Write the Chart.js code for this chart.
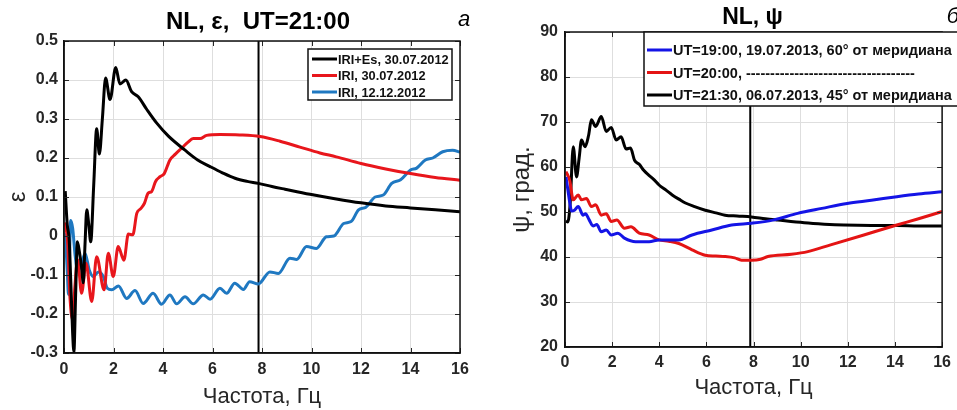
<!DOCTYPE html>
<html lang="ru">
<head>
    <meta charset="UTF-8">
    <title>NL, ε, ψ</title>
    <script src="https://cdn.jsdelivr.net/npm/chart.js"></script>
    <style>
        body {
            margin: 0;
            padding: 0;
            background: #fff;
            width: 957px;
            height: 410px;
            overflow: hidden;
        }
        .panel {
            position: absolute;
            top: 0;
            height: 410px;
        }
        #left { left: 0; width: 480px; }
        #right { left: 480px; width: 477px; }
    </style>
</head>
<body>

<div class="panel" id="left"><canvas id="epsChart"></canvas></div>
<div class="panel" id="right"><canvas id="psiChart"></canvas></div>

<script>
    // --- данные ---
    const markerFreq = 7.86; // вертикальная линия, Гц

    // левая панель: ε
    const fEpsIriEs = [0.05, 0.13, 0.21, 0.27, 0.35, 0.40, 0.47, 0.54, 0.62, 0.71, 0.78, 0.85, 0.92, 1.00, 1.08,
        1.20, 1.32, 1.43, 1.55, 1.68, 1.86, 2.09, 2.26, 2.50, 2.73, 3.00, 3.34, 3.74, 4.22, 4.89,
        5.40, 5.90, 6.40, 6.91, 7.40, 7.85, 8.40, 8.93, 9.94, 11.0, 12.0, 13.0, 14.0, 15.0, 16.0];
    const epsIriEs = [0.115, 0.03, -0.01, -0.11, -0.25, -0.297, -0.15, -0.015, -0.04, -0.08, -0.12, -0.02, 0.067, 0.03, -0.015,
        0.13, 0.275, 0.21, 0.30, 0.405, 0.35, 0.432, 0.39, 0.40, 0.37, 0.357, 0.325, 0.29, 0.256, 0.22,
        0.195, 0.178, 0.162, 0.148, 0.14, 0.135, 0.127, 0.12, 0.107, 0.095, 0.085, 0.077, 0.072, 0.067, 0.062];

    const fEpsIri = [0.05, 0.15, 0.24, 0.35, 0.44, 0.55, 0.71, 0.89, 1.12, 1.32, 1.62, 1.79, 1.99, 2.19, 2.42,
        2.60, 2.78, 2.94, 3.10, 3.25, 3.40, 3.54, 3.70, 3.88, 4.05, 4.28, 4.50, 4.75, 5.00, 5.22,
        5.50, 5.76, 6.30, 7.10, 7.92, 8.73, 9.53, 10.34, 11.0, 12.0, 13.0, 14.0, 15.0, 16.0];
    const epsIri = [0.035, -0.02, -0.156, -0.215, -0.13, -0.06, -0.147, -0.07, -0.168, -0.053, -0.138, -0.044, -0.104, -0.027, -0.062,
        0.005, 0.003, 0.058, 0.07, 0.084, 0.11, 0.114, 0.14, 0.152, 0.16, 0.195, 0.21, 0.225, 0.24, 0.25,
        0.25, 0.258, 0.26, 0.259, 0.255, 0.243, 0.228, 0.213, 0.203, 0.186, 0.172, 0.16, 0.15, 0.143];

    const fEpsWinter = [0.05, 0.13, 0.18, 0.27, 0.35, 0.45, 0.55, 0.70, 0.85, 1.02, 1.19, 1.39, 1.59, 1.75, 1.93,
        2.20, 2.53, 2.87, 3.20, 3.60, 3.94, 4.28, 4.55, 4.89, 5.22, 5.63, 5.90, 6.30, 6.57, 6.90,
        7.25, 7.50, 7.85, 8.32, 8.66, 9.13, 9.40, 9.80, 10.2, 10.6, 10.9, 11.3, 11.6, 11.9, 12.2,
        12.57, 12.9, 13.24, 13.6, 14.0, 14.25, 14.6, 14.9, 15.3, 15.7, 16.0];
    const epsWinter = [0.007, -0.087, -0.15, 0.04, 0.02, -0.05, -0.087, -0.075, -0.044, -0.087, -0.104, -0.092, -0.104, -0.134, -0.138,
        -0.128, -0.16, -0.14, -0.173, -0.147, -0.175, -0.151, -0.174, -0.156, -0.174, -0.151, -0.162, -0.134, -0.147, -0.121,
        -0.137, -0.117, -0.123, -0.092, -0.096, -0.057, -0.06, -0.027, -0.032, -0.002, 0.0, 0.032, 0.037, 0.067, 0.074,
        0.1, 0.105, 0.135, 0.144, 0.169, 0.174, 0.195, 0.2, 0.216, 0.22, 0.215];

    // правая панель: ψ, град.
    const fPsi1900 = [0.04, 0.12, 0.22, 0.28, 0.40, 0.56, 0.77, 0.87, 1.02, 1.19, 1.35, 1.54, 1.75, 1.96, 2.24,
        2.52, 3.00, 3.57, 3.99, 4.83, 5.39, 6.23, 7.07, 7.91, 8.82, 9.87, 10.9, 11.97, 13.0, 14.08, 15.0, 16.0];
    const psi1900 = [57.8, 55.0, 51.5, 50.2, 50.4, 51.2, 49.3, 49.6, 48.3, 46.9, 47.2, 45.6, 46.0, 44.9, 45.3,
        44.2, 43.4, 43.4, 43.8, 43.8, 44.9, 46.0, 47.1, 47.5, 48.2, 49.7, 50.8, 51.9, 52.6, 53.4, 54.0, 54.5];

    const fPsi2000 = [0.04, 0.20, 0.35, 0.56, 0.70, 0.91, 1.12, 1.30, 1.54, 1.75, 1.96, 2.20, 2.52, 2.80, 3.15,
        3.57, 3.99, 4.40, 4.83, 5.39, 5.95, 6.40, 6.79, 7.20, 7.49, 7.91, 8.30, 8.61, 9.60, 10.30,
        11.27, 12.68, 14.08, 15.0, 16.0];
    const psi2000 = [59.0, 57.0, 52.7, 53.8, 52.7, 53.0, 51.2, 51.6, 49.3, 49.6, 47.9, 48.2, 46.4, 46.7, 45.3,
        44.9, 43.8, 43.5, 43.0, 41.6, 40.4, 40.2, 40.1, 39.8, 39.3, 39.3, 39.5, 40.1, 40.6, 41.2,
        42.7, 44.9, 47.1, 48.5, 50.1];

    const fPsi2130 = [0.04, 0.12, 0.22, 0.35, 0.49, 0.60, 0.70, 0.85, 1.00, 1.12, 1.30, 1.54, 1.75, 1.96, 2.17,
        2.38, 2.59, 2.78, 2.95, 3.15, 3.35, 3.55, 3.75, 3.99, 4.30, 4.55, 4.85, 5.11, 5.50, 5.95,
        6.40, 6.79, 7.30, 7.91, 8.50, 9.03, 10.15, 11.0, 11.83, 13.0, 14.1, 15.0, 16.0];
    const psi2130 = [48.0, 47.8, 52.0, 64.5, 57.8, 62.0, 66.0, 64.5, 67.0, 70.5, 69.0, 71.2, 67.9, 68.8, 66.0,
        66.7, 64.0, 64.2, 61.5, 60.6, 59.2, 58.2, 57.3, 56.0, 54.8, 53.8, 52.8, 52.0, 51.2, 50.4,
        49.8, 49.3, 49.1, 48.9, 48.5, 48.2, 47.6, 47.3, 47.1, 47.0, 47.0, 46.9, 46.9];

    const FONT = '"Liberation Sans", Arial, sans-serif';
    Chart.defaults.font.family = FONT;

    function lineSet(label, xs, ys, color) {
        return {
            label: label,
            data: xs.map((x, i) => ({x: x, y: ys[i]})),
            borderColor: color,
            borderWidth: 3,
            pointRadius: 0,
            cubicInterpolationMode: 'monotone',
            fill: false
        };
    }

    function markerSet(yMin, yMax) {
        return {
            data: [{x: markerFreq, y: yMin}, {x: markerFreq, y: yMax}],
            borderColor: '#000',
            borderWidth: 2,
            pointRadius: 0
        };
    }

    // рамка, засечки внутрь, легенда и заголовок в стиле MATLAB
    const panelDecor = {
        id: 'panelDecor',
        afterDatasetsDraw(chart, args, o) {
            const ctx = chart.ctx;
            const a = chart.chartArea;
            const sx = chart.scales.x, sy = chart.scales.y;
            ctx.save();

            ctx.strokeStyle = '#262626';
            ctx.lineWidth = 1;
            ctx.beginPath();
            sx.ticks.forEach(t => {
                const px = Math.round(sx.getPixelForValue(t.value)) + 0.5;
                ctx.moveTo(px, a.bottom); ctx.lineTo(px, a.bottom - 5);
                ctx.moveTo(px, a.top); ctx.lineTo(px, a.top + 5);
            });
            sy.ticks.forEach(t => {
                const py = Math.round(sy.getPixelForValue(t.value)) + 0.5;
                ctx.moveTo(a.left, py); ctx.lineTo(a.left + 5, py);
                ctx.moveTo(a.right, py); ctx.lineTo(a.right - 5, py);
            });
            ctx.stroke();

            ctx.strokeStyle = '#111';
            ctx.lineWidth = 1.5;
            ctx.strokeRect(a.left, a.top, a.right - a.left, a.bottom - a.top);

            // легенда
            const lg = o.legend;
            const bx = a.left + lg.dx, by = a.top + lg.dy;
            ctx.fillStyle = '#fff';
            ctx.fillRect(bx, by, lg.w, lg.h);
            ctx.strokeStyle = '#111';
            ctx.lineWidth = 1.5;
            ctx.strokeRect(bx, by, lg.w, lg.h);
            ctx.font = 'bold ' + lg.fontSize + 'px ' + FONT;
            ctx.textAlign = 'left';
            ctx.textBaseline = 'middle';
            chart.data.datasets.filter(d => d.label).forEach((d, i) => {
                const y = by + lg.first + i * lg.step;
                ctx.strokeStyle = d.borderColor;
                ctx.lineWidth = 3;
                ctx.beginPath();
                ctx.moveTo(bx + lg.pad, y);
                ctx.lineTo(bx + lg.pad + 25, y);
                ctx.stroke();
                ctx.fillStyle = '#111';
                ctx.fillText(d.label, bx + lg.pad + 26, y + 1);
            });

            // заголовок и буква панели
            ctx.fillStyle = '#000';
            ctx.textAlign = 'center';
            ctx.font = 'bold ' + o.titleSize + 'px ' + FONT;
            ctx.fillText(o.title, (a.left + a.right) / 2 + o.titleDx, o.titleY);
            ctx.font = 'italic 22px ' + FONT;
            ctx.fillText(o.letter, o.letterX, o.letterY);
            ctx.restore();
        }
    };

    function panel(canvasId, datasets, o) {
        return new Chart(document.getElementById(canvasId), {
            type: 'line',
            data: {datasets: datasets},
            options: {
                responsive: true,
                maintainAspectRatio: false,
                animation: false,
                layout: {padding: o.padding},
                plugins: {
                    legend: {display: false},
                    tooltip: {enabled: false},
                    panelDecor: o.decor
                },
                scales: {
                    x: {
                        type: 'linear',
                        min: 0,
                        max: 16,
                        ticks: {stepSize: 2, font: {size: 16, weight: 'bold'}, color: '#262626', padding: o.xTickPad, maxRotation: 0},
                        grid: {color: '#dedede', drawTicks: false},
                        border: {color: '#111', width: 1.5},
                        title: {
                            display: true,
                            text: 'Частота, Гц',
                            font: {size: 22},
                            color: '#262626',
                            padding: {top: 0, bottom: o.xTitlePad}
                        },
                        afterFit: s => { s.height = o.xHeight; }
                    },
                    y: {
                        min: o.yMin,
                        max: o.yMax,
                        ticks: {stepSize: o.yStep, font: {size: 16, weight: 'bold'}, color: '#262626', padding: o.yTickPad, callback: o.yFmt},
                        grid: {color: '#dedede', drawTicks: false},
                        border: {color: '#111', width: 1.5},
                        title: {
                            display: true,
                            text: o.yTitle,
                            font: {size: o.yTitleSize},
                            color: '#262626',
                            padding: {top: o.yTitlePad, bottom: 0}
                        },
                        afterFit: s => { s.width = o.yWidth; }
                    }
                }
            },
            plugins: [panelDecor]
        });
    }

    panel('epsChart', [
        lineSet('IRI+Es, 30.07.2012', fEpsIriEs, epsIriEs, '#000000'),
        lineSet('IRI, 30.07.2012', fEpsIri, epsIri, '#e8161c'),
        lineSet('IRI, 12.12.2012', fEpsWinter, epsWinter, '#1f78c1'),
        markerSet(-0.3, 0.5)
    ], {
        padding: {top: 41, right: 20, bottom: 0, left: 0},
        yMin: -0.3, yMax: 0.5, yStep: 0.1,
        yFmt: v => String(Math.round(v * 10) / 10),
        yTitle: 'ε', yTitleSize: 24, yTitlePad: 4,
        yWidth: 64, yTickPad: 6,
        xHeight: 57, xTickPad: 7, xTitlePad: 0,
        decor: {
            title: 'NL, ε,  UT=21:00', titleSize: 24, titleDx: -4, titleY: 22,
            letter: 'а', letterX: 464, letterY: 20,
            legend: {dx: 244, dy: 8, w: 144, h: 51, first: 10, step: 16.5, pad: 4, fontSize: 12.8}
        }
    });

    panel('psiChart', [
        lineSet('UT=19:00, 19.07.2013, 60° от меридиана', fPsi1900, psi1900, '#1414e6'),
        lineSet('UT=20:00, -----------------------------------', fPsi2000, psi2000, '#e41414'),
        lineSet('UT=21:30, 06.07.2013, 45° от меридиана', fPsi2130, psi2130, '#000000'),
        markerSet(20, 90)
    ], {
        padding: {top: 32, right: 11, bottom: 0, left: 0},
        yMin: 20, yMax: 90, yStep: 10,
        yFmt: v => String(v),
        yTitle: 'ψ, град.', yTitleSize: 24, yTitlePad: 28,
        yWidth: 85, yTickPad: 7,
        xHeight: 63, xTickPad: 6, xTitlePad: 9,
        decor: {
            title: 'NL, ψ', titleSize: 23, titleDx: -1, titleY: 18,
            letter: 'б', letterX: 473, letterY: 17,
            legend: {dx: 79, dy: 0, w: 320, h: 74, first: 18, step: 22.5, pad: 3, fontSize: 14.5}
        }
    });
</script>

</body>
</html>
